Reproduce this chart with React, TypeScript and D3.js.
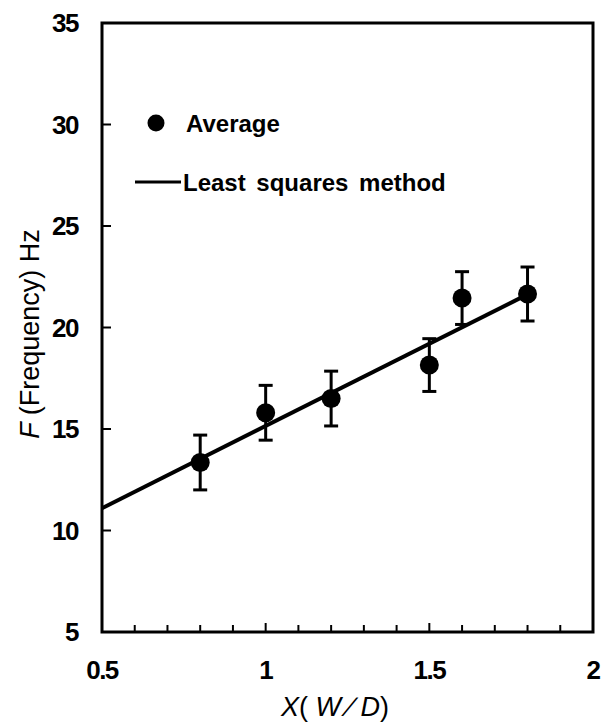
import { useRef, useEffect } from "react";
import * as d3 from "d3";

const xValues = [0.8, 1.0, 1.2, 1.5, 1.6, 1.8];
const averages = [13.35, 15.8, 16.5, 18.15, 21.45, 21.65];
const errors = [1.35, 1.35, 1.35, 1.3, 1.3, 1.33];
const fitX = [0.5, 1.8];
const fitY = [11.1, 21.63];
const xTickLabels = [0.5, 1, 1.5, 2];
const yTickLabels = [5, 10, 15, 20, 25, 30, 35];

export default function App() {
  const svgRef = useRef<SVGSVGElement>(null);

  useEffect(() => {
    const svg = d3.select(svgRef.current);
    svg.selectAll("*").remove();

    const width = 603;
    const height = 723;
    const left = 102;
    const right = 593;
    const top = 23;
    const bottom = 632;
    const font = "'Liberation Sans', Arial, sans-serif";

    svg.attr("width", width).attr("height", height);

    const x = d3.scaleLinear().domain([0.5, 2]).range([left, right]);
    const y = d3.scaleLinear().domain([5, 35]).range([bottom, top]);

    // frame
    svg
      .append("rect")
      .attr("x", left)
      .attr("y", top)
      .attr("width", right - left)
      .attr("height", bottom - top)
      .attr("fill", "none")
      .attr("stroke", "#000")
      .attr("stroke-width", 3);

    // x ticks (inward), minor every 0.1
    const xTicks = d3.range(5, 21).map((d) => d / 10);
    svg
      .append("g")
      .selectAll("line")
      .data(xTicks)
      .join("line")
      .attr("x1", (d) => x(d))
      .attr("x2", (d) => x(d))
      .attr("y1", bottom)
      .attr("y2", (d) => bottom - (Math.abs(d * 2 - Math.round(d * 2)) < 1e-6 ? 9 : 7))
      .attr("stroke", "#000")
      .attr("stroke-width", 2);

    svg
      .append("g")
      .selectAll("text")
      .data(xTickLabels)
      .join("text")
      .attr("x", (d) => x(d))
      .attr("y", 679)
      .attr("text-anchor", "middle")
      .style("font-family", font)
      .attr("font-size", 26)
      .attr("font-weight", "bold")
      .attr("letter-spacing", -1.5)
      .text((d) => `${d}`);

    // y ticks
    svg
      .append("g")
      .selectAll("line")
      .data(yTickLabels)
      .join("line")
      .attr("x1", left)
      .attr("x2", left + 9)
      .attr("y1", (d) => y(d))
      .attr("y2", (d) => y(d))
      .attr("stroke", "#000")
      .attr("stroke-width", 2);

    svg
      .append("g")
      .selectAll("text")
      .data(yTickLabels)
      .join("text")
      .attr("x", 78)
      .attr("y", (d) => y(d))
      .attr("dy", "0.36em")
      .attr("text-anchor", "end")
      .style("font-family", font)
      .attr("font-size", 26)
      .attr("font-weight", "bold")
      .attr("letter-spacing", -1.5)
      .text((d) => `${d}`);

    // axis titles
    const xt = svg
      .append("text")
      .attr("x", 335)
      .attr("y", 716)
      .attr("text-anchor", "middle")
      .style("font-family", font)
      .attr("font-size", 27)
      .attr("font-style", "italic");
    xt.append("tspan").text("X");
    xt.append("tspan").attr("font-style", "normal").text("( ");
    xt.append("tspan").text("W \u2215 D");
    xt.append("tspan").attr("font-style", "normal").text(")");

    const yt = svg
      .append("text")
      .attr("transform", "translate(39,334) rotate(-90)")
      .attr("text-anchor", "middle")
      .style("font-family", font)
      .attr("font-size", 27);
    yt.append("tspan").attr("font-style", "italic").text("F ");
    yt.append("tspan").text("(Frequency) Hz");

    // least squares line
    const line = d3
      .line<number>()
      .x((d) => x(d))
      .y((_, i) => y(fitY[i]));
    svg
      .append("path")
      .attr("d", line(fitX))
      .attr("fill", "none")
      .attr("stroke", "#000")
      .attr("stroke-width", 4);

    // error bars
    const eb = svg
      .append("g")
      .selectAll("g")
      .data(xValues)
      .join("g");
    eb.append("line")
      .attr("x1", (d) => x(d))
      .attr("x2", (d) => x(d))
      .attr("y1", (_, i) => y(averages[i] + errors[i]))
      .attr("y2", (_, i) => y(averages[i] - errors[i]))
      .attr("stroke", "#000")
      .attr("stroke-width", 3);
    [1, -1].forEach((s) => {
      eb.append("line")
        .attr("x1", (d) => x(d) - 7)
        .attr("x2", (d) => x(d) + 7)
        .attr("y1", (_, i) => y(averages[i] + s * errors[i]))
        .attr("y2", (_, i) => y(averages[i] + s * errors[i]))
        .attr("stroke", "#000")
        .attr("stroke-width", 3);
    });

    // points
    svg
      .append("g")
      .selectAll("circle")
      .data(xValues)
      .join("circle")
      .attr("cx", (d) => x(d))
      .attr("cy", (_, i) => y(averages[i]))
      .attr("r", 9.5)
      .attr("fill", "#000");

    // legend
    const legend = svg.append("g");
    legend
      .append("circle")
      .attr("cx", 156)
      .attr("cy", 123)
      .attr("r", 8.5)
      .attr("fill", "#000");
    legend
      .append("text")
      .attr("x", 186)
      .attr("y", 132)
      .style("font-family", font)
      .attr("font-size", 24)
      .attr("font-weight", "bold")
      .text("Average");
    legend
      .append("line")
      .attr("x1", 135)
      .attr("x2", 181)
      .attr("y1", 182)
      .attr("y2", 182)
      .attr("stroke", "#000")
      .attr("stroke-width", 3);
    legend
      .append("text")
      .attr("x", 183)
      .attr("y", 191)
      .style("font-family", font)
      .attr("font-size", 24)
      .attr("font-weight", "bold")
      .attr("word-spacing", 4)
      .text("Least squares method");
  }, []);

  return <svg ref={svgRef} style={{ position: "absolute", left: 0, top: 0 }} />;
}
